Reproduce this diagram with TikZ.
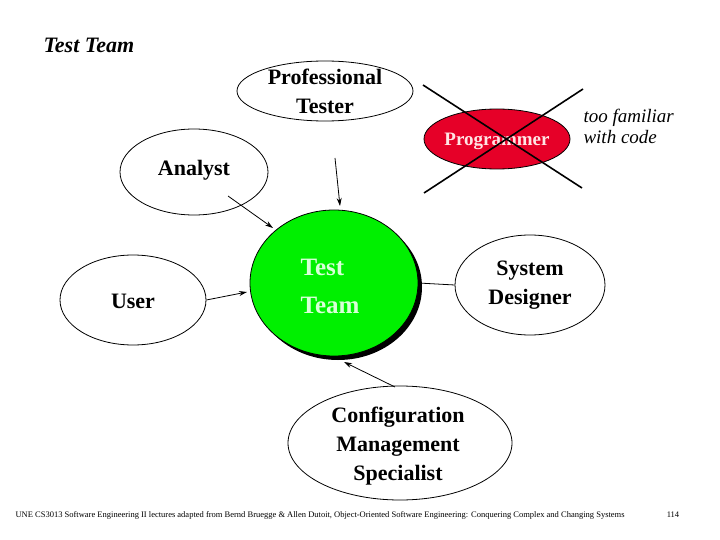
\documentclass[tikz,border=0pt]{standalone}
\usepackage{fontspec}
\setmainfont{Liberation Serif}
\usetikzlibrary{shapes.geometric,arrows.meta}
\definecolor{tgreen}{RGB}{0,240,0}
\definecolor{pred}{RGB}{230,0,40}
\begin{document}
\begin{tikzpicture}[x=1pt,y=-1pt,
  ell/.style={draw,ellipse,inner sep=0pt,line width=0.8pt,align=center},
  lbl/.style={font=\fontsize{22}{29}\selectfont\bfseries},
  conn/.style={line width=0.8pt,-{Stealth[length=8pt,width=5pt]}}]
\useasboundingbox (0,0) rectangle (720,540);
\node[anchor=west,font=\fontsize{22}{26}\selectfont\bfseries\itshape] (title) at (40,45) {Test Team};
\node[ell,minimum width=176,minimum height=60] (pt) at (325,91) {};
\node[lbl,align=center] (ptt) at (325,91) {Professional\\Tester};
\node[ell,minimum width=148,minimum height=86] (an) at (194,172) {};
\node[lbl] at (194,170) {Analyst};
\node[ell,minimum width=146,minimum height=90] (us) at (133,300) {};
\node[lbl] at (133,301) {User};
\node[ellipse,fill=black,minimum width=168,minimum height=146] (sh) at (338,287) {};
\node[ell,fill=tgreen,minimum width=168,minimum height=146] (tt) at (334,283) {};
\node[lbl,text=white!85!green,align=left,font=\fontsize{25}{38}\selectfont\bfseries] at (330,286) {Test\\Team};
\node[ell,minimum width=150,minimum height=100] (sd) at (530,285) {};
\node[lbl,align=center] at (530,285) {System\\Designer};
\node[ell,minimum width=224,minimum height=114] (cm) at (400,443) {};
\node[lbl,align=center] at (398,446) {Configuration\\Management\\Specialist};
\node[ell,fill=pred,minimum width=146,minimum height=60] (pg) at (497,139) {};
\node[font=\fontsize{19}{22}\selectfont\bfseries,text=white!90!red] at (497,141) {Programmer};
\coordinate (x1) at (423,85); \coordinate (x2) at (582,188);
\coordinate (x3) at (583,89); \coordinate (x4) at (424,193);
\draw[line width=1.6pt] (x1) -- (x2);
\draw[line width=1.6pt] (x3) -- (x4);
\node[anchor=west,align=left,font=\fontsize{19}{21}\selectfont\itshape] (tf) at (580,126) {too familiar\\with code};
\coordinate (a1) at (228,196);
\draw[conn] (a1) -- (273,228);
\draw[conn] (us.east) -- (247,292);
\draw[conn] (335,158) -- (340,206);
\draw[line width=0.8pt] (tt.east) -- (sd.west);
\draw[conn] (395,387) -- (344,362);
\node[anchor=west,font=\fontsize{8.5}{9}\selectfont] (ft) at (12,515) {UNE CS3013 Software Engineering II lectures adapted from Bernd Bruegge \& Allen Dutoit, Object-Oriented Software Engineering: Conquering Complex and Changing Systems};
\node[font=\fontsize{8.5}{9}\selectfont] (pn) at (673,515) {114};
\end{tikzpicture}
\end{document}
